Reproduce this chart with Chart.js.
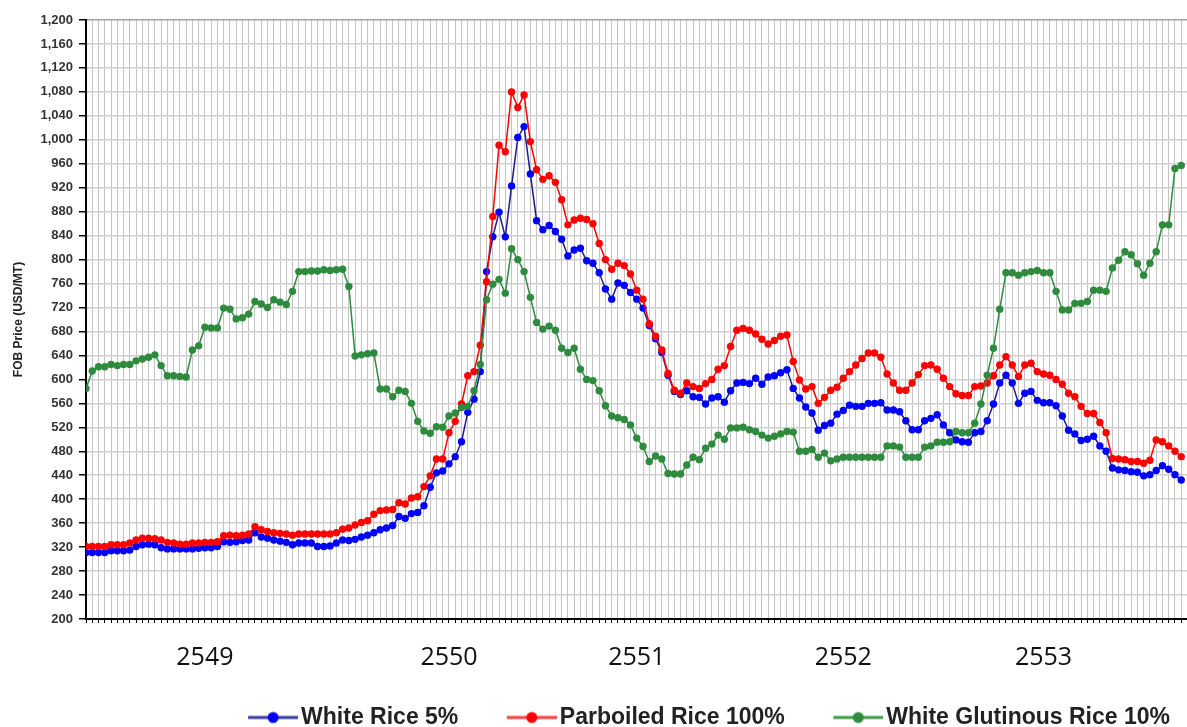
<!DOCTYPE html>
<html>
<head>
<meta charset="utf-8">
<script src="https://cdn.jsdelivr.net/npm/chart.js@4.4.1/dist/chart.umd.min.js"></script>
<style>
  html, body { margin: 0; padding: 0; background: #fff; overflow: hidden; }
  /* the reference is cropped on the right and bottom, so the chart is a bit bigger than the window */
  #wrap { position: relative; width: 1204px; height: 739px; }
</style>
</head>
<body>
<div id="wrap"><canvas id="chart"></canvas></div>
<script>
// weekly FOB prices, USD/MT (week 0 = left edge)
const whiteRice5 = [
  311, 311, 311, 311, 314, 314, 314, 315, 321, 324, 325, 324, 319, 317, 317, 317, 317, 317, 318, 319,
  319, 321, 329, 328, 329, 331, 332, 344, 337, 335, 332, 330, 328, 324, 327, 327, 327, 321, 321, 322,
  327, 332, 331, 333, 337, 340, 344, 349, 352, 356, 371, 368, 376, 378, 389, 420, 444, 447, 459, 471,
  496, 545, 567, 613, 780, 838, 879, 838, 923, 1004, 1022, 943, 865, 850, 857, 847, 834, 806, 816, 819,
  798, 794, 778, 751, 734, 761, 757, 745, 734, 719, 690, 668, 645, 607, 580, 575, 581, 571, 570, 559,
  569, 571, 562, 581, 594, 595, 593, 602, 592, 604, 606, 611, 616, 585, 569, 554, 544, 515, 523, 527,
  542, 548, 557, 555, 555, 560, 560, 561, 549, 549, 546, 531, 516, 516, 531, 535, 541, 524, 511, 499,
  496, 495, 511, 513, 531, 559, 594, 607, 594, 560, 577, 580, 565, 561, 561, 556, 539, 515, 509, 498,
  500, 505, 489, 480, 452, 449, 448, 446, 445, 439, 441, 448, 456, 450, 441, 432
];
const parboiled100 = [
  321, 321, 321, 321, 324, 324, 324, 327, 332, 335, 335, 334, 332, 328, 327, 325, 325, 327, 327, 328,
  328, 329, 339, 340, 339, 340, 342, 354, 349, 346, 344, 343, 342, 340, 342, 342, 342, 342, 342, 342,
  344, 350, 352, 357, 361, 364, 375, 381, 382, 383, 394, 392, 402, 404, 421, 439, 467, 467, 511, 530,
  559, 606, 613, 657, 763, 872, 991, 980, 1080, 1054, 1075, 997, 950, 934, 940, 929, 900, 858, 866, 869,
  867, 860, 827, 800, 784, 794, 790, 776, 749, 734, 693, 672, 649, 610, 582, 577, 594, 588, 585, 593,
  600, 617, 623, 655, 682, 685, 682, 676, 667, 659, 665, 672, 674, 630, 599, 584, 588, 560, 570, 582,
  587, 602, 613, 624, 635, 644, 644, 637, 609, 594, 582, 582, 594, 608, 623, 624, 617, 602, 588, 576,
  573, 573, 588, 589, 594, 606, 624, 638, 624, 605, 624, 627, 613, 609, 607, 600, 592, 577, 571, 555,
  543, 543, 528, 511, 468, 467, 466, 463, 463, 460, 465, 499, 496, 489, 480, 471
];
const glutinous10 = [
  585, 614, 621, 621, 625, 623, 625, 625, 631, 634, 637, 641, 623, 606, 606, 605, 604, 649, 656, 687,
  686, 686, 719, 717, 701, 703, 709, 730, 726, 720, 733, 729, 725, 747, 780, 780, 781, 781, 783, 782,
  783, 784, 755, 639, 641, 643, 644, 584, 584, 571, 582, 580, 560, 530, 514, 510, 521, 520, 539, 544,
  553, 555, 581, 625, 733, 759, 767, 744, 818, 800, 780, 737, 695, 684, 689, 682, 652, 645, 652, 617,
  600, 598, 581, 556, 539, 536, 533, 524, 502, 488, 463, 472, 467, 443, 442, 442, 457, 470, 466, 485,
  492, 507, 500, 519, 519, 520, 516, 513, 507, 502, 505, 509, 513, 512, 480, 480, 483, 470, 477, 464,
  467, 470, 470, 470, 470, 470, 470, 470, 489, 489, 487, 470, 470, 470, 487, 489, 495, 495, 496, 513,
  511, 511, 527, 559, 607, 652, 717, 778, 778, 774, 778, 780, 782, 778, 778, 747, 716, 716, 727, 727,
  730, 749, 749, 747, 786, 799, 813, 808, 793, 774, 794, 813, 858, 858, 952, 957
];

// year captions under the axis and the week they sit under
const yearLabels = ['2549', '2550', '2551', '2552', '2553'];
const yearWeeks = [19, 58, 88, 121, 153];

const seriesNames = ['White Rice 5%', 'Parboiled Rice 100%', 'White Glutinous Rice 10%'];

Chart.defaults.font.family = '"Liberation Sans", Arial, sans-serif';

// little "line with a dot" picture for the legend
function legendSymbol(lineColor, dotColor) {
    const c = document.createElement('canvas');
    c.width = 73;
    c.height = 16;
    const g = c.getContext('2d');
    g.strokeStyle = lineColor;
    g.lineWidth = 3;
    g.beginPath();
    g.moveTo(23, 8);
    g.lineTo(73, 8);
    g.stroke();
    g.fillStyle = dotColor;
    g.beginPath();
    g.arc(48, 8, 5.5, 0, Math.PI * 2);
    g.fill();
    return c;
}
const symbols = [
    legendSymbol('#3a3aa8', '#0000ff'),
    legendSymbol('#ff3b3b', '#ff0000'),
    legendSymbol('#3c9a48', '#2e8b3e')
];

const toPoints = arr => arr.map((y, i) => ({ x: i, y }));

function series(label, values, line, dot, order) {
    return {
        label,
        data: toPoints(values),
        borderColor: line,
        backgroundColor: dot,
        borderWidth: 1.5,
        pointRadius: 3.7,
        pointBorderWidth: 0,
        pointBackgroundColor: dot,
        pointBorderColor: dot,
        tension: 0,
        fill: false,
        order
    };
}

new Chart(document.getElementById('chart').getContext('2d'), {
    type: 'line',
    data: {
        datasets: [
            series(seriesNames[0], whiteRice5, '#1c1c8c', '#0000ff', 3),
            series(seriesNames[1], parboiled100, '#ff0000', '#ff0000', 2),
            series(seriesNames[2], glutinous10, '#2e8b3e', '#2e8b3e', 1)
        ]
    },
    options: {
        responsive: true,
        maintainAspectRatio: false,
        animation: false,
        layout: { padding: { left: 11, top: 20, right: 0, bottom: 0 } },
        plugins: {
            tooltip: { enabled: false },
            legend: {
                position: 'bottom',
                align: 'end',
                labels: {
                    usePointStyle: true,
                    pointStyleWidth: 56,
                    padding: 34,
                    color: '#222',
                    font: { size: 23, weight: 'bold' },
                    sort: (a, b) => a.datasetIndex - b.datasetIndex,
                    generateLabels(chart) {
                        const items = Chart.defaults.plugins.legend.labels.generateLabels(chart);
                        items.forEach(it => { it.pointStyle = symbols[it.datasetIndex]; });
                        return items;
                    }
                }
            }
        },
        scales: {
            x: {
                type: 'linear',
                min: 0,
                max: 178,
                afterFit(scale) {
                    scale.height = 53;
                    scale.paddingLeft = 0;
                    scale.paddingRight = 0;
                },
                border: { color: '#000', width: 2 },
                grid: { color: '#c4c4c4', lineWidth: 1, tickColor: '#000', tickLength: 4 },
                ticks: {
                    stepSize: 1,
                    autoSkip: false,
                    maxRotation: 0,
                    padding: 20,
                    color: '#111',
                    font: { family: '"Open Sans", sans-serif', size: 25 },
                    callback(v) {
                        const k = yearWeeks.indexOf(v);
                        return k >= 0 ? yearLabels[k] : '';
                    }
                }
            },
            y: {
                min: 200,
                max: 1200,
                afterFit(scale) { scale.width = 75; },
                border: { color: '#000', width: 2 },
                grid: {
                    color: ctx => (ctx.tick && ctx.tick.value === 1200 ? '#a0a0a0' : '#cfcfcf'),
                    lineWidth: 1.5,
                    tickColor: '#000',
                    tickLength: 7
                },
                ticks: {
                    stepSize: 40,
                    padding: 6,
                    color: '#333',
                    font: { size: 13, weight: 'bold' },
                    callback: v => v.toLocaleString('en-US')
                },
                title: {
                    display: true,
                    text: 'FOB Price (USD/MT)',
                    color: '#222',
                    padding: 0,
                    font: { size: 12, weight: 'bold' }
                }
            }
        }
    }
});
</script>
</body>
</html>
